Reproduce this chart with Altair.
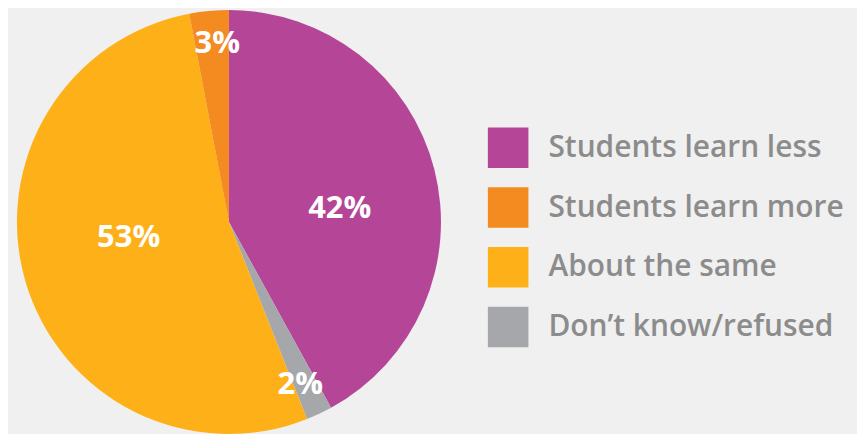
import altair as alt
import pandas as pd

categories = ["Students learn less", "Don’t know/refused", "About the same", "Students learn more"]
values = [42, 2, 53, 3]
labels = ["42%", "2%", "53%", "3%"]
legend_order = ["Students learn less", "Students learn more", "About the same", "Don’t know/refused"]
legend_colors = ["#b44597", "#f48b21", "#fdb018", "#a6a7aa"]

df = pd.DataFrame({
    "category": categories,
    "value": values,
    "label": labels,
    "order": list(range(len(categories))),
})

arcs = alt.Chart(df).mark_arc(outerRadius=213, stroke=None).encode(
    theta=alt.Theta("value:Q", stack=True),
    order=alt.Order("order:Q"),
    color=alt.Color(
        "category:N",
        scale=alt.Scale(domain=legend_order, range=legend_colors),
        legend=alt.Legend(
            title=None,
            orient="none",
            legendX=482,
            legendY=119,
            symbolType="square",
            symbolSize=1660,
            symbolStrokeWidth=0,
            symbolOpacity=1,
            labelFontSize=30,
            labelFont="Open Sans",
            labelFontWeight=600,
            labelColor="#8c8c8c",
            labelOffset=20,
            rowPadding=19,
            labelLimit=500,
            padding=0,
        ),
    ),
)

text_base = (
    alt.Chart(df)
    .transform_window(cum="sum(value)", sort=[alt.SortField("order")])
    .transform_calculate(mid="datum.cum - datum.value / 2 + (datum.value >= 5 ? 2.1 : 0.45)")
    .encode(
        theta=alt.Theta("mid:Q", stack=None, scale=alt.Scale(domain=[0, 100], range=[0, 6.283185307])),
        text="label:N",
    )
)

text_big = text_base.transform_filter("datum.value >= 5").mark_text(
    radius=107, dx=5, fontSize=31, fontWeight="bold", font="Open Sans", color="white"
)
text_small = text_base.transform_filter("datum.value < 5").mark_text(
    radius=179, fontSize=31, fontWeight="bold", font="Open Sans", color="white"
)

chart = (
    alt.layer(arcs, text_big, text_small)
    .resolve_scale(theta="independent")
    .properties(
        width=444,
        height=428,
        padding={"left": 0, "top": 0, "right": 13, "bottom": 0},
        background="#f0f0f0",
    )
    .configure_view(stroke=None)
)

chart.save("out.html", embed_options={"renderer": "svg", "actions": False})
